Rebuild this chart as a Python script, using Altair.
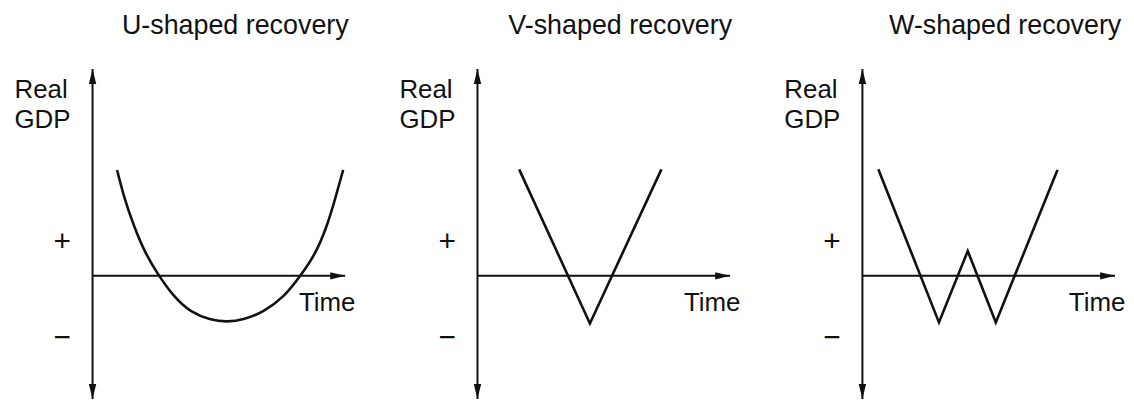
import altair as alt
import pandas as pd

# ---- data (time units along x, GDP units along y) ----
titles = ["U-shaped recovery", "V-shaped recovery", "W-shaped recovery"]

u_time = [0.97, 1.26, 1.65, 2.11, 2.64, 3.23, 3.89, 4.67, 5.33, 5.98, 6.77, 7.56, 8.22, 8.81, 9.26, 9.59, 9.92]
u_gdp = [5.12, 3.8, 2.4, 1.1, 0.0, -0.97, -1.69, -2.1, -2.2, -2.09, -1.69, -0.97, 0.0, 1.12, 2.40, 3.68, 5.12]

v_time = [1.65, 4.45, 7.28]
v_gdp = [5.15, -2.3, 5.15]

w_time = [0.63, 3.03, 4.17, 5.28, 7.72]
w_gdp = [5.15, -2.25, 1.2, -2.25, 5.12]

tick_values = [1.66, -3.0]          # where "+" and "−" sit on the GDP axis
axis_time_end = 10.0                 # tip of the Time arrow
axis_gdp_top = 10.0                  # tip of the upward arrow
axis_gdp_bottom = -5.95              # tip of the downward arrow

# ---- style ----
FONT = "Liberation Sans"
FS = 26
TITLE_FS = 27
SIGN_FS = 30
INK = "#111111"
X_SCALE = alt.Scale(domain=[0, 10], nice=False, zero=False)
Y_SCALE = alt.Scale(domain=[-6, 12.9], nice=False, zero=False)

UP = "M0,0L0.5,2L-0.5,2Z"
DOWN = "M0,0L0.5,-2L-0.5,-2Z"
RIGHT = "M0,0L-2,0.5L-2,-0.5Z"

Y_AXIS = alt.Axis(
    values=tick_values,
    labelExpr="datum.value > 0 ? '+' : '\u2212'",
    domain=False, ticks=False, tickSize=0, grid=False,
    labelPadding=31, labelAlign="center", labelBaseline="middle",
    labelFont=FONT, labelFontSize=SIGN_FS, labelColor=INK,
    title=["Real", "GDP"], titleAngle=0, titleAlign="left",
    titleBaseline="alphabetic", titleX=-79, titleY=89,
    titleFont=FONT, titleFontSize=FS, titleFontWeight="normal",
    titleColor=INK, titleLineHeight=30,
)


def X(field):
    return alt.X(field, scale=X_SCALE, axis=None)


def Y(field):
    return alt.Y(field, scale=Y_SCALE, axis=Y_AXIS)


def panel(title, times, gdps, interp):
    curve_df = pd.DataFrame({"time": times, "gdp": gdps})
    axes_df = pd.DataFrame({
        "x": [0.0, 0.0], "y": [axis_gdp_bottom, 0.0],
        "x2": [0.0, axis_time_end], "y2": [axis_gdp_top, 0.0],
    })
    arrow_df = pd.DataFrame({
        "x": [0.0, 0.0, axis_time_end],
        "y": [axis_gdp_top, axis_gdp_bottom, 0.0],
        "dir": ["up", "down", "right"],
    })

    axes = alt.Chart(axes_df).mark_rule(color=INK, strokeWidth=2).encode(
        x=X("x:Q"), y=Y("y:Q"), x2="x2:Q", y2="y2:Q",
    )

    arrows = alt.Chart(arrow_df).mark_point(
        filled=True, size=225, color=INK, opacity=1, strokeWidth=0
    ).encode(
        x=X("x:Q"), y=Y("y:Q"),
        shape=alt.Shape("dir:N", scale=alt.Scale(domain=["up", "down", "right"], range=[UP, DOWN, RIGHT]), legend=None),
    )

    curve = alt.Chart(curve_df).mark_line(
        color=INK, strokeWidth=2.6, interpolate=interp
    ).encode(x=X("time:Q"), y=Y("gdp:Q"))

    head = alt.Chart(pd.DataFrame({"label": [title]})).mark_text(
        font=FONT, fontSize=TITLE_FS, color=INK, align="center", baseline="alphabetic"
    ).encode(x=alt.datum(5.65), y=alt.datum(11.7), text="label:N")

    time_lbl = alt.Chart(pd.DataFrame({"label": ["Time"]})).mark_text(
        font=FONT, fontSize=FS, color=INK, align="left", baseline="alphabetic"
    ).encode(x=alt.datum(8.17), y=alt.datum(-1.71), text="label:N")

    return alt.layer(axes, curve, arrows, head, time_lbl).properties(width=254, height=393)


chart = alt.hconcat(
    panel(titles[0], u_time, u_gdp, "natural"),
    panel(titles[1], v_time, v_gdp, "linear"),
    panel(titles[2], w_time, w_gdp, "linear"),
    spacing=133,
    bounds="flush",
).configure_view(stroke=None).properties(
    padding={"left": 6, "top": 0, "right": 0, "bottom": 0},
    background="white",
)

chart.save("out.html", embed_options={"renderer": "svg", "actions": False})
